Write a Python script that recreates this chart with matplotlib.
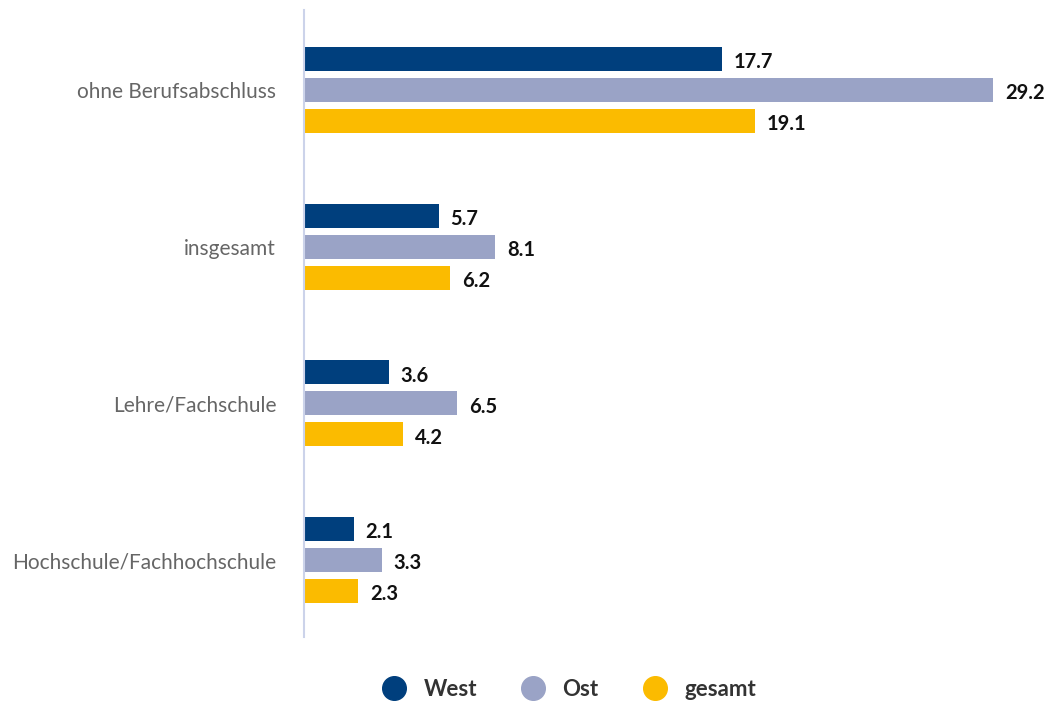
import matplotlib.pyplot as plt
import numpy as np
from matplotlib.lines import Line2D

plt.rcParams["font.family"] = ["Lato", "DejaVu Sans"]

categories = ["ohne Berufsabschluss", "insgesamt", "Lehre/Fachschule", "Hochschule/Fachhochschule"]
series_names = ["West", "Ost", "gesamt"]
west = [17.7, 5.7, 3.6, 2.1]
ost = [29.2, 8.1, 6.5, 3.3]
gesamt = [19.1, 6.2, 4.2, 2.3]
colors = ["#003f7d", "#9aa3c6", "#fbbb00"]

fig = plt.figure(figsize=(10.5, 7.04), dpi=100)
ax = fig.add_axes([304 / 1050, 1 - 637 / 704, (1036 - 304) / 1050, (637 - 10) / 704])

y = np.arange(len(categories))
pitch = 0.198
height = 0.153
for i, (name, values, color) in enumerate(zip(series_names, [west, ost, gesamt], colors)):
    pos = y + (i - 1) * pitch
    ax.barh(pos, values, height=height, color=color, label=name)
    for p, v in zip(pos, values):
        ax.text(v + 0.5, p + 0.02, f"{v:.1f}", va="center", ha="left",
                fontsize=14.5, fontweight="bold", color="#111111")

ax.set_xlim(0, 31)
ax.set_ylim(3.49, -0.51)
ax.set_yticks(y)
ax.set_yticklabels(categories, fontsize=15, color="#666666")
ax.tick_params(axis="y", length=0, pad=20)
ax.set_xticks([])
for side in ["top", "right", "bottom"]:
    ax.spines[side].set_visible(False)
ax.spines["left"].set_color("#ccd3ea")
ax.spines["left"].set_linewidth(1.5)

handles = [Line2D([], [], marker="o", linestyle="", markersize=17, color=c) for c in colors]
fig.legend(handles, series_names, loc="center", bbox_to_anchor=(564 / 1050, 1 - 689 / 704),
           ncol=3, frameon=False, handletextpad=0.3, columnspacing=1.55,
           prop={"weight": "bold", "size": 16}, labelcolor="#333333")

fig.savefig("out.png", dpi=100)
